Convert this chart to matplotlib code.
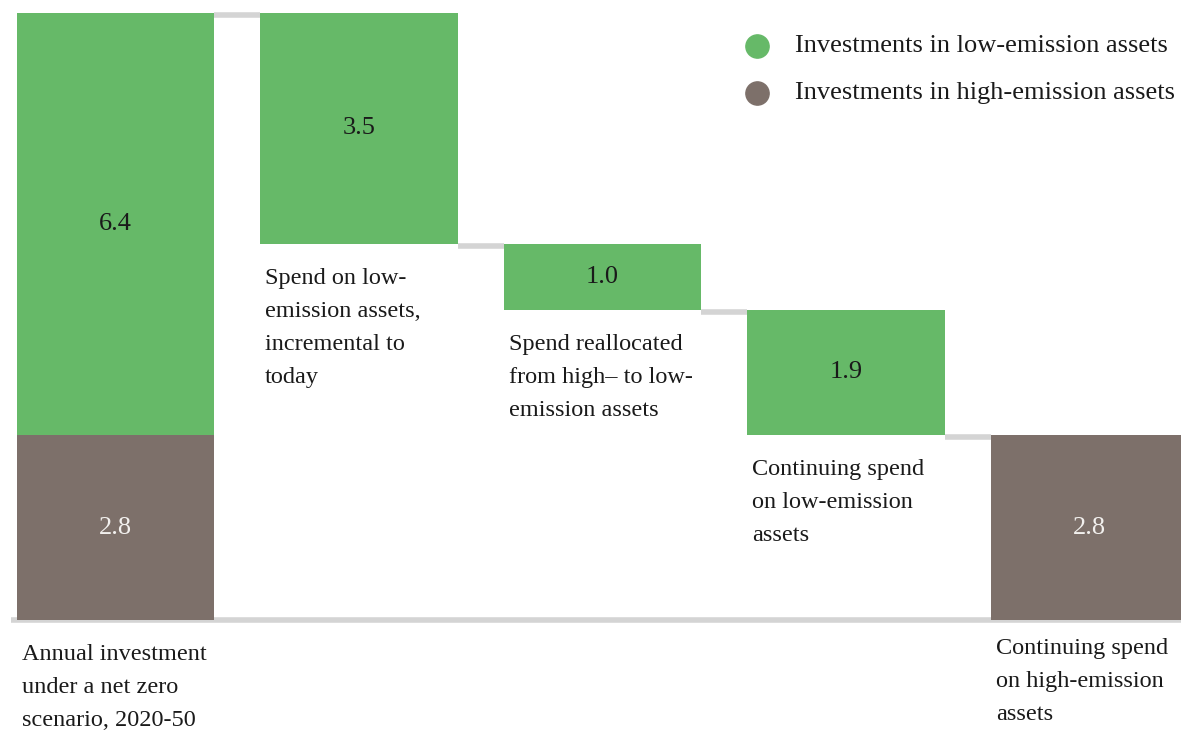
import numpy as np
import matplotlib.pyplot as plt

plt.rcParams['font.family'] = ['Liberation Serif', 'DejaVu Serif']

# data
low_total = 6.4
high_total = 2.8
steps = [3.5, 1.0, 1.9]
end_high = 2.8
value_labels = ["6.4", "2.8", "3.5", "1.0", "1.9", "2.8"]
cat_labels = [
    "Annual investment\nunder a net zero\nscenario, 2020-50",
    "Spend on low-\nemission assets,\nincremental to\ntoday",
    "Spend reallocated\nfrom high\u2013 to low-\nemission assets",
    "Continuing spend\non low-emission\nassets",
    "Continuing spend\non high-emission\nassets",
]
legend_labels = ["Investments in low-emission assets", "Investments in high-emission assets"]

green = "#66b968"
brown = "#7d706a"
grey = "#d4d4d4"

fig = plt.figure(figsize=(11.81, 7.30), dpi=100)
ax = fig.add_axes([0, 0, 1, 1])
ax.set_xlim(-0.474, 4.376)
ax.set_ylim(-1.667, 9.394)
ax.axis("off")

w = 0.81
x = np.arange(5)

# first stacked bar
ax.bar(x[0], high_total, w, color=brown, zorder=2)
ax.bar(x[0], low_total, w, bottom=high_total, color=green, zorder=2)

# waterfall steps
top = low_total + high_total
levels = [top]
for i, s in enumerate(steps):
    ax.bar(x[i + 1], s, w, bottom=top - s, color=green, zorder=2)
    ax.text(x[i + 1], top - s / 2, value_labels[i + 2], ha="center", va="center",
            fontsize=19, color="#1a1a1a")
    top = top - s
    levels.append(top)

# last bar
ax.bar(x[4], end_high, w, color=brown, zorder=2)

# connectors
for i, lv in enumerate(levels):
    ax.plot([x[i] + w / 2, x[i + 1] - w / 2], [lv - 0.03, lv - 0.03], color=grey, lw=4,
            solid_capstyle="butt", zorder=1)

# baseline
ax.plot([-0.43, 4.376], [0, 0], color=grey, lw=4, solid_capstyle="butt", zorder=1)

# value labels on first and last bar
ax.text(x[0], high_total + low_total / 2, value_labels[0], ha="center", va="center",
        fontsize=19, color="#1a1a1a")
ax.text(x[0], high_total / 2, value_labels[1], ha="center", va="center",
        fontsize=19, color="#f2f0ee")
ax.text(x[4], end_high / 2, value_labels[5], ha="center", va="center",
        fontsize=19, color="#f2f0ee")

# category labels
label_y = [-0.36, levels[1] - 0.36, levels[2] - 0.36, levels[3] - 0.36, -0.27]
for i, lab in enumerate(cat_labels):
    ax.text(x[i] - w / 2 + 0.02, label_y[i], lab, ha="left", va="top",
            fontsize=17.5, color="#1a1a1a", linespacing=1.75)

# legend
for j, (lab, c) in enumerate(zip(legend_labels, [green, brown])):
    yy = 8.69 - j * 0.71
    ax.scatter([2.636], [yy], s=280, color=c, zorder=3)
    ax.text(2.79, yy, lab, ha="left", va="center", fontsize=19, color="#1a1a1a")

fig.savefig("out.png", dpi=100)
